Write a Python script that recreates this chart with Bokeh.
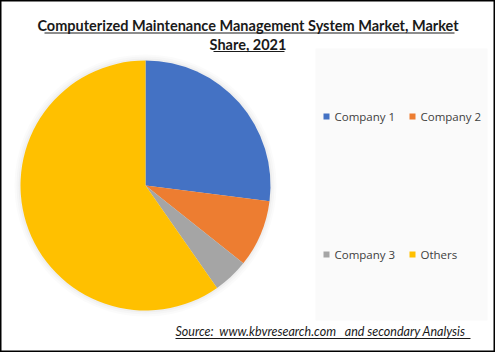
import numpy as np
from bokeh.plotting import figure
from bokeh.models import ColumnDataSource, Range1d
from bokeh.core.properties import value
from bokeh.embed import file_html
from bokeh.resources import INLINE

categories = ["Company 1", "Company 2", "Company 3", "Others"]
shares = [27.0, 8.7, 4.6, 59.7]
colors = ["#4472C4", "#ED7D31", "#A5A5A5", "#FFC000"]
title_lines = ["Computerized Maintenance Management System Market, Market", "Share, 2021"]
source_note = "Source:\u00a0\u00a0www.kbvresearch.com\u00a0\u00a0\u00a0and secondary Analysis"

W, H = 495, 352
p = figure(width=W, height=H, output_backend="svg", toolbar_location=None,
           x_range=Range1d(0, W), y_range=Range1d(0, H),
           x_axis_location=None, y_axis_location=None, min_border=0)
p.grid.visible = False
p.outline_line_color = "black"
p.outline_line_width = 2
p.background_fill_color = "white"

# pie wedges (clockwise from 12 o'clock)
vals = np.array(shares, dtype=float)
frac = vals / vals.sum()
cum = np.cumsum(frac)
prev = np.concatenate([[0.0], cum[:-1]])
start = np.pi / 2 - prev * 2 * np.pi
end = np.pi / 2 - cum * 2 * np.pi
cx, cy, r = 145, H - 185, 125
src = ColumnDataSource(dict(cat=categories, val=shares, color=colors, start=start, end=end))

# soft halo
for k, a in [(6, 0.03), (4, 0.04), (2, 0.06)]:
    p.circle(x=[cx], y=[cy], radius=r + k, fill_color="#888888", fill_alpha=a, line_color=None)
p.wedge(x=cx, y=cy, radius=r, start_angle="start", end_angle="end", direction="clock",
        fill_color="color", line_color=None, source=src)

# legend panel
p.quad(left=[315], right=[487], bottom=[H - 320], top=[H - 48], fill_color="#fafafa", line_color=None)
lx = [323, 409, 323, 409]
ly = [H - 116, H - 116, H - 254, H - 254]
p.rect(x=[v + 3 for v in lx], y=ly, width=6, height=6, fill_color=colors, line_color=None)
p.text(x=[v + 11 for v in lx], y=ly, text=categories, text_font=value("Open Sans"),
       text_font_size="11.5px", text_color="#404040", text_baseline="middle", text_align="left")

# title
p.text(x=[W / 2, W / 2], y=[H - 25, H - 44], text=title_lines, text_font=value("Lato"),
       text_font_size="14.5px", text_font_style="bold", text_color="#1a1a1a",
       text_align="center", text_baseline="middle")
p.segment(x0=[44, 213], x1=[454, 284], y0=[H - 32.5, H - 51], y1=[H - 32.5, H - 51],
          line_color="#1a1a1a", line_width=1)

# source note
p.text(x=[175], y=[H - 331], text=[source_note], text_font=value("Lato"),
       text_font_size="12.5px", text_font_style="italic", text_color="#1a1a1a",
       text_align="left", text_baseline="middle")
p.segment(x0=[175], x1=[470], y0=[H - 338], y1=[H - 338], line_color="#1a1a1a", line_width=1)

open("out.html", "w").write(file_html(p, INLINE))
